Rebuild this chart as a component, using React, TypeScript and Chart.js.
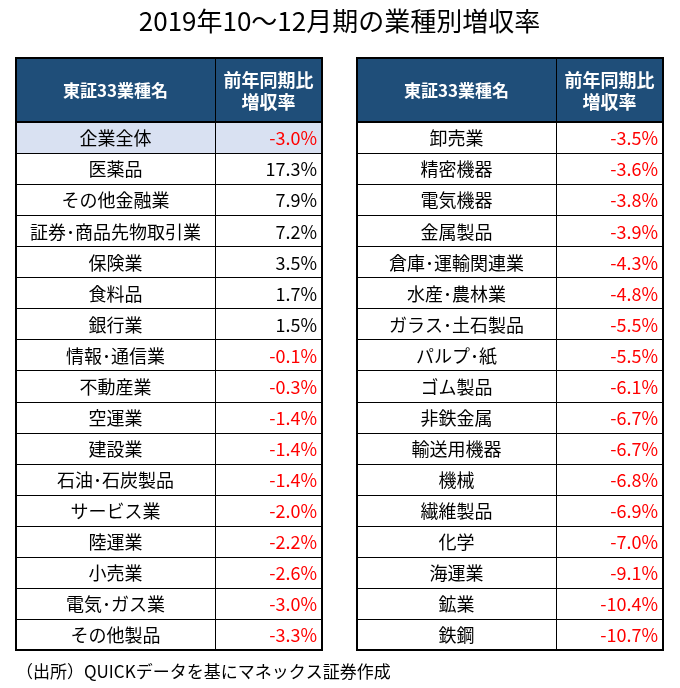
import { useEffect, useRef } from 'react';
import { Chart, registerables } from 'chart.js';

Chart.register(...registerables);

const TITLE = '2019年10～12月期の業種別増収率';
const SOURCE = '（出所）QUICKデータを基にマネックス証券作成';
const HEADER_NAME = '東証33業種名';
const HEADER_VALUE = ['前年同期比', '増収率'];

const leftNames = [
  '企業全体', '医薬品', 'その他金融業', '証券･商品先物取引業', '保険業', '食料品', '銀行業',
  '情報･通信業', '不動産業', '空運業', '建設業', '石油･石炭製品', 'サービス業', '陸運業',
  '小売業', '電気･ガス業', 'その他製品',
];
const leftValues = [-3.0, 17.3, 7.9, 7.2, 3.5, 1.7, 1.5, -0.1, -0.3, -1.4, -1.4, -1.4, -2.0, -2.2, -2.6, -3.0, -3.3];

const rightNames = [
  '卸売業', '精密機器', '電気機器', '金属製品', '倉庫･運輸関連業', '水産･農林業', 'ガラス･土石製品',
  'パルプ･紙', 'ゴム製品', '非鉄金属', '輸送用機器', '機械', '繊維製品', '化学', '海運業', '鉱業', '鉄鋼',
];
const rightValues = [-3.5, -3.6, -3.8, -3.9, -4.3, -4.8, -5.5, -5.5, -6.1, -6.7, -6.7, -6.8, -6.9, -7.0, -9.1, -10.4, -10.7];

// ---- layout / style (not data) ----
const FONT = "'Noto Sans CJK JP', 'Noto Sans', sans-serif";
const HEADER_BG = '#1F4E79';
const HIGHLIGHT_BG = '#D9E1F2';
const NEG_COLOR = '#FF0000';
const POS_COLOR = '#000000';
const LINE_COLOR = '#000000';
const HEADER_UNITS = 2.06; // header height in row units
const NAME_W = 199;
const VALUE_W = 107;
const GAP_W = 35;
const TOTAL_W = 2 * (NAME_W + VALUE_W) + GAP_W;

const tables = [
  { names: leftNames, values: leftValues, start: 0, highlight: 0 },
  { names: rightNames, values: rightValues, start: NAME_W + VALUE_W + GAP_W, highlight: -1 },
];
const ROWS = Math.max(leftNames.length, rightNames.length);

const fmt = (v: number) => `${v.toFixed(1)}%`;

const tablePlugin = {
  id: 'tableCells',
  beforeDatasetsDraw(chart: any) {
    const { ctx, scales } = chart;
    const x = scales.x;
    const y = scales.y;
    ctx.save();
    tables.forEach((t) => {
      const xL = Math.round(x.getPixelForValue(t.start));
      const xR = Math.round(x.getPixelForValue(t.start + NAME_W + VALUE_W));
      const yT = Math.round(y.getPixelForValue(-HEADER_UNITS));
      const yH = Math.round(y.getPixelForValue(0));
      ctx.fillStyle = HEADER_BG;
      ctx.fillRect(xL, yT, xR - xL, yH - yT);
      if (t.highlight >= 0) {
        const y0 = Math.round(y.getPixelForValue(t.highlight));
        const y1 = Math.round(y.getPixelForValue(t.highlight + 1));
        ctx.fillStyle = HIGHLIGHT_BG;
        ctx.fillRect(xL, y0, xR - xL, y1 - y0);
      }
    });
    ctx.restore();
  },
  afterDatasetsDraw(chart: any) {
    const { ctx, scales } = chart;
    const x = scales.x;
    const y = scales.y;
    ctx.save();
    // cell texts from dataset elements
    chart.data.datasets.forEach((ds: any, di: number) => {
      const meta = chart.getDatasetMeta(di);
      ctx.font = `18px ${FONT}`;
      ctx.textBaseline = 'middle';
      meta.data.forEach((el: any, i: number) => {
        if (ds.kind === 'name') {
          ctx.textAlign = 'center';
          ctx.fillStyle = '#000';
          ctx.fillText(ds.texts[i], el.x, el.y + 1);
        } else {
          ctx.textAlign = 'right';
          ctx.fillStyle = ds.raw[i] < 0 ? NEG_COLOR : POS_COLOR;
          ctx.fillText(ds.texts[i], el.x - 5, el.y + 1);
        }
      });
    });
    // header texts + borders
    tables.forEach((t) => {
      const xL = Math.round(x.getPixelForValue(t.start));
      const xM = Math.round(x.getPixelForValue(t.start + NAME_W));
      const xR = Math.round(x.getPixelForValue(t.start + NAME_W + VALUE_W));
      const yT = Math.round(y.getPixelForValue(-HEADER_UNITS));
      const yH = Math.round(y.getPixelForValue(0));
      const yB = Math.round(y.getPixelForValue(ROWS));
      const yHC = (yT + yH) / 2;
      ctx.fillStyle = '#FFFFFF';
      ctx.textAlign = 'center';
      ctx.textBaseline = 'middle';
      ctx.font = `bold 17px ${FONT}`;
      ctx.fillText(HEADER_NAME, (xL + xM) / 2, yHC + 1);
      ctx.font = `bold 18px ${FONT}`;
      ctx.fillText(HEADER_VALUE[0], (xM + xR) / 2, yHC - 10);
      ctx.fillText(HEADER_VALUE[1], (xM + xR) / 2, yHC + 12);

      ctx.strokeStyle = LINE_COLOR;
      ctx.lineWidth = 1;
      ctx.beginPath();
      for (let r = 1; r < ROWS; r++) {
        const yy = Math.round(y.getPixelForValue(r)) + 0.5;
        ctx.moveTo(xL, yy);
        ctx.lineTo(xR, yy);
      }
      ctx.moveTo(xM + 0.5, yT);
      ctx.lineTo(xM + 0.5, yB);
      ctx.stroke();

      ctx.lineWidth = 2;
      ctx.beginPath();
      ctx.moveTo(xL, yH);
      ctx.lineTo(xR, yH);
      ctx.stroke();
      ctx.strokeRect(xL, yT, xR - xL, yB - yT);
    });
    ctx.restore();
  },
};

export default function App() {
  const ref = useRef<HTMLCanvasElement | null>(null);
  useEffect(() => {
    if (!ref.current) return;
    const datasets: any[] = [];
    tables.forEach((t) => {
      datasets.push({
        kind: 'name',
        texts: t.names,
        raw: t.names,
        data: t.names.map((_, i) => ({ x: t.start + NAME_W / 2, y: i + 0.5 })),
        pointRadius: 0,
        showLine: false,
      });
      datasets.push({
        kind: 'value',
        texts: t.values.map(fmt),
        raw: t.values,
        data: t.values.map((_, i) => ({ x: t.start + NAME_W + VALUE_W, y: i + 0.5 })),
        pointRadius: 0,
        showLine: false,
      });
    });
    const chart = new Chart(ref.current, {
      type: 'scatter',
      data: { datasets },
      plugins: [tablePlugin],
      options: {
        responsive: false,
        animation: false,
        events: [],
        layout: { padding: { top: 0, left: 16, right: 17, bottom: 0 } },
        scales: {
          x: { type: 'linear', min: 0, max: TOTAL_W, display: false },
          y: { type: 'linear', min: -HEADER_UNITS, max: ROWS, reverse: true, display: false },
        },
        plugins: {
          legend: { display: false },
          tooltip: { enabled: false },
          title: {
            display: true,
            text: TITLE,
            color: '#000',
            font: { family: FONT, size: 26, weight: 'normal' },
            padding: { top: 6, bottom: 20.8 },
          },
          subtitle: {
            display: true,
            text: SOURCE,
            position: 'bottom',
            align: 'start',
            color: '#000',
            font: { family: FONT, size: 17, weight: 'normal' },
            padding: { top: 11, bottom: 6.6 },
          },
        },
      } as any,
    });
    return () => chart.destroy();
  }, []);
  return (
    <div style={{ position: 'fixed', left: 0, top: 0, width: 680, height: 688, background: '#fff' }}>
      <canvas ref={ref} width={680} height={688} />
    </div>
  );
}
